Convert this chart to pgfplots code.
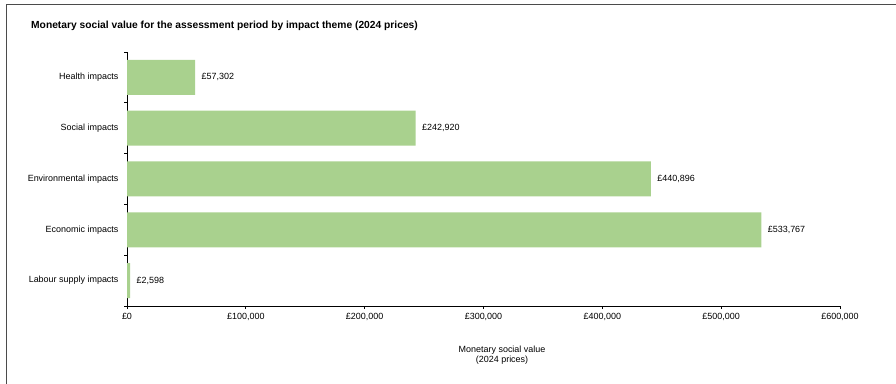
\documentclass[border=0pt]{standalone}
\usepackage{fontspec}
\setmainfont{Liberation Sans}
\usepackage{pgfplots}
\pgfplotsset{compat=1.18}
\definecolor{bargreen}{RGB}{169,209,142}
\definecolor{framegrey}{RGB}{75,75,75}
\begin{document}
\begin{tikzpicture}
\path[use as bounding box] (0bp,0bp) rectangle (896bp,384bp);
\draw[framegrey, line width=1.5bp] (6.5bp,0bp) -- (6.5bp,379.5bp) -- (896bp,379.5bp);
\node[anchor=west, font=\fontsize{10.3}{12}\selectfont\bfseries, inner sep=0pt] at (31bp,358bp) {Monetary social value for the assessment period by impact theme (2024 prices)};
\begin{axis}[
  at={(127bp,78bp)}, anchor=south west,
  scale only axis, width=713bp, height=254bp,
  xbar, bar width=35bp, bar shift=0pt,
  xmin=0, xmax=600000, ymin=-0.5, ymax=4.5,
  scaled x ticks=false,
  axis x line*=bottom, axis y line*=left,
  axis line style={black, line width=0.8bp, -},
  tick align=outside,
  major tick length=3bp, minor tick length=3bp,
  tick style={black, line width=0.8bp},
  xtick={0,100000,200000,300000,400000,500000,600000},
  xticklabels={{£0},{£100,000},{£200,000},{£300,000},{£400,000},{£500,000},{£600,000}},
  ytick={0,1,2,3,4},
  yticklabels={{Labour supply impacts},{Economic impacts},{Environmental impacts},{Social impacts},{Health impacts}},
  minor ytick={-0.5,0.5,1.5,2.5,3.5,4.5},
  major y tick style={draw=none},
  ticklabel style={font=\fontsize{9}{10}\selectfont, text=black},
  yticklabel style={xshift=-2bp},
  xticklabel style={yshift=-1bp},
  xlabel={Monetary social value\\(2024 prices)},
  xlabel style={align=center, at={(axis description cs:0.526,-0.193)}, anchor=center, font=\fontsize{9}{10}\selectfont},
  point meta=explicit symbolic,
  nodes near coords,
  nodes near coords style={anchor=west, font=\fontsize{9}{10}\selectfont, xshift=3bp, text=black},
  clip=false,
]
\addplot[fill=bargreen, draw=none] coordinates {
  (2598,0) [£2,598]
  (533767,1) [£533,767]
  (440896,2) [£440,896]
  (242920,3) [£242,920]
  (57302,4) [£57,302]
};
\end{axis}
\end{tikzpicture}
\end{document}
